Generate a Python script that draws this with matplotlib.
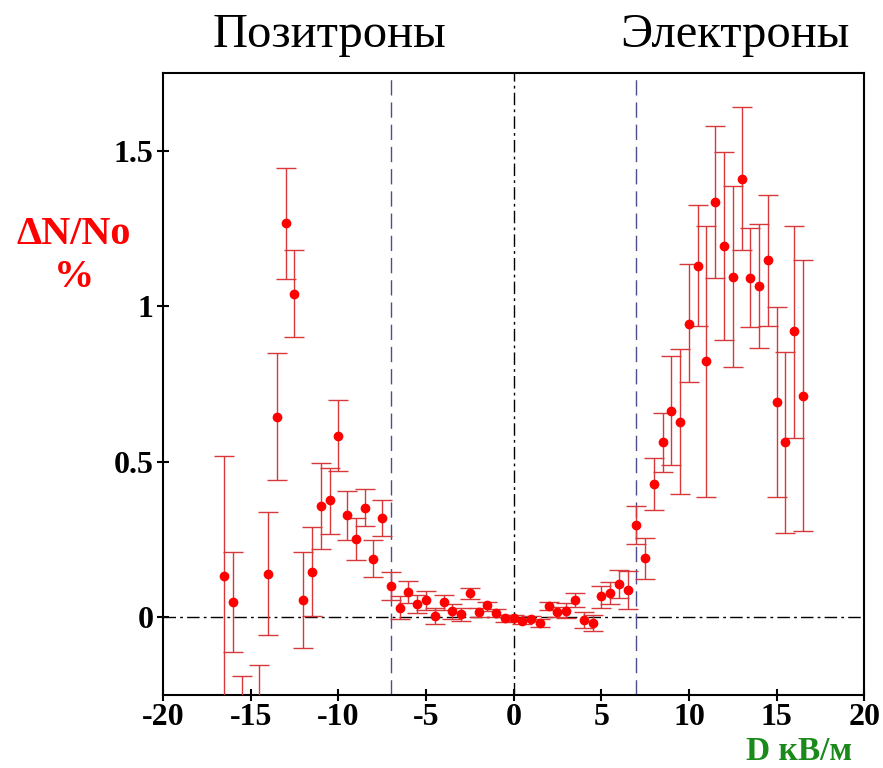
import numpy as np
import matplotlib.pyplot as plt

# data: D (kV/m), dN/No (%), error bar top / bottom
d = [-16.5, -16.0, -15.5, -14.5, -14.0, -13.5, -13.0, -12.5, -12.0, -11.5,
     -11.0, -10.5, -10.0, -9.5, -9.0, -8.5, -8.0, -7.5, -7.0, -6.5,
     -6.0, -5.5, -5.0, -4.5, -4.0, -3.5, -3.0, -2.5, -2.0, -1.5,
     -1.0, -0.5, 0.0, 0.5, 1.0, 1.5, 2.0, 2.5, 3.0, 3.5,
     4.0, 4.5, 5.0, 5.5, 6.0, 6.5, 7.0, 7.5, 8.0, 8.5,
     9.0, 9.5, 10.0, 10.5, 11.0, 11.5, 12.0, 12.5, 13.0, 13.5,
     14.0, 14.5, 15.0, 15.5, 16.0, 16.5]
dn = [0.133, 0.048, -0.36, -0.33, 0.138, 0.644, 1.267, 1.040, 0.057, 0.147,
      0.358, 0.376, 0.582, 0.328, 0.252, 0.350, 0.186, 0.320, 0.102, 0.031,
      0.081, 0.044, 0.057, 0.005, 0.048, 0.019, 0.009, 0.079, 0.017, 0.038,
      0.015, -0.003, -0.003, -0.013, -0.004, -0.017, 0.036, 0.017, 0.021, 0.055,
      -0.010, -0.019, 0.069, 0.079, 0.108, 0.088, 0.297, 0.189, 0.427, 0.563,
      0.664, 0.628, 0.944, 1.129, 0.823, 1.334, 1.193, 1.094, 1.410, 1.091,
      1.066, 1.148, 0.692, 0.563, 0.919, 0.712]
hi = [0.520, 0.211, -0.189, -0.155, 0.337, 0.849, 1.445, 1.180, 0.211, 0.289,
      0.497, 0.480, 0.698, 0.407, 0.320, 0.413, 0.249, 0.378, 0.147, 0.070,
      0.118, 0.073, 0.085, 0.030, 0.073, 0.042, 0.030, 0.095, 0.030, 0.050,
      0.028, 0.006, 0.008, -0.005, 0.003, -0.006, 0.050, 0.032, 0.045, 0.079,
      0.018, 0.006, 0.102, 0.113, 0.152, 0.149, 0.359, 0.254, 0.511, 0.658,
      0.840, 0.863, 1.136, 1.324, 1.257, 1.581, 1.495, 1.385, 1.641, 1.253,
      1.266, 1.357, 0.998, 0.854, 1.257, 1.148]
lo = [-0.40, -0.113, -0.53, -0.50, -0.057, 0.441, 1.089, 0.900, -0.099, 0.005,
      0.221, 0.268, 0.469, 0.249, 0.183, 0.292, 0.128, 0.260, 0.057, -0.006,
      0.046, 0.013, 0.025, -0.023, 0.023, -0.006, -0.012, 0.059, 0.000, 0.021,
      0.002, -0.014, -0.013, -0.021, -0.012, -0.030, 0.023, 0.001, -0.001, 0.033,
      -0.034, -0.045, 0.030, 0.042, 0.063, 0.028, 0.237, 0.124, 0.345, 0.466,
      0.489, 0.396, 0.755, 0.936, 0.388, 1.091, 0.891, 0.804, 1.182, 0.932,
      0.865, 0.938, 0.388, 0.272, 0.577, 0.277]

xticks = [-20, -15, -10, -5, 0, 5, 10, 15, 20]
yticks = [0, 0.5, 1, 1.5]
ytick_labels = ["0", "0.5", "1", "1.5"]

d = np.array(d)
dn = np.array(dn)
err = [dn - np.array(lo), np.array(hi) - dn]

plt.rcParams['font.family'] = ['Liberation Serif', 'DejaVu Serif']
plt.rcParams['axes.unicode_minus'] = False

fig = plt.figure(figsize=(8.83, 7.68), dpi=100)
ax = fig.add_axes([0.1846, 0.095, 0.7942, 0.810])

ax.errorbar(d, dn, yerr=err, fmt='none', ecolor='#d9383a', elinewidth=1.0,
            capsize=7, capthick=1.0, zorder=3)
ax.plot(d, dn, 'o', color='#ff0000', markersize=6, zorder=4)

ax.axhline(0, color='black', lw=1.0, ls=(0, (9, 3, 2, 3)), zorder=2)
ax.axvline(0, color='black', lw=1.0, ls=(0, (9, 3, 2, 3)), zorder=2)
for xv in (-7, 7):
    ax.axvline(xv, color='#4a4f8c', lw=1.0, ls=(0, (11, 5)), zorder=2)

ax.set_xlim(-20, 20)
ax.set_ylim(-0.25, 1.75)
ax.set_xticks(xticks)
ax.set_yticks(yticks)
ax.set_yticklabels(ytick_labels)
ax.tick_params(direction='inout', length=8, width=1.5, labelsize=23)
ax.tick_params(axis='x', pad=2)
ax.tick_params(axis='y', pad=3)
for lab in ax.get_xticklabels() + ax.get_yticklabels():
    lab.set_fontweight('bold')
for sp in ax.spines.values():
    sp.set_linewidth(1.5)

fig.text(0.373, 0.954, "Позитроны", fontsize=35, ha='center', va='center')
fig.text(0.832, 0.954, "Электроны", fontsize=35, ha='center', va='center')
fig.text(0.084, 0.667, "\u0394N/No\n%", color='#ff0000', fontsize=29,
         fontweight='bold', ha='center', va='center', linespacing=1.2)
fig.text(0.905, 0.011, "D кВ/м", color='#1a8a1a', fontsize=24,
         fontweight='bold', ha='center', va='baseline')

plt.savefig("out.png", dpi=100)
